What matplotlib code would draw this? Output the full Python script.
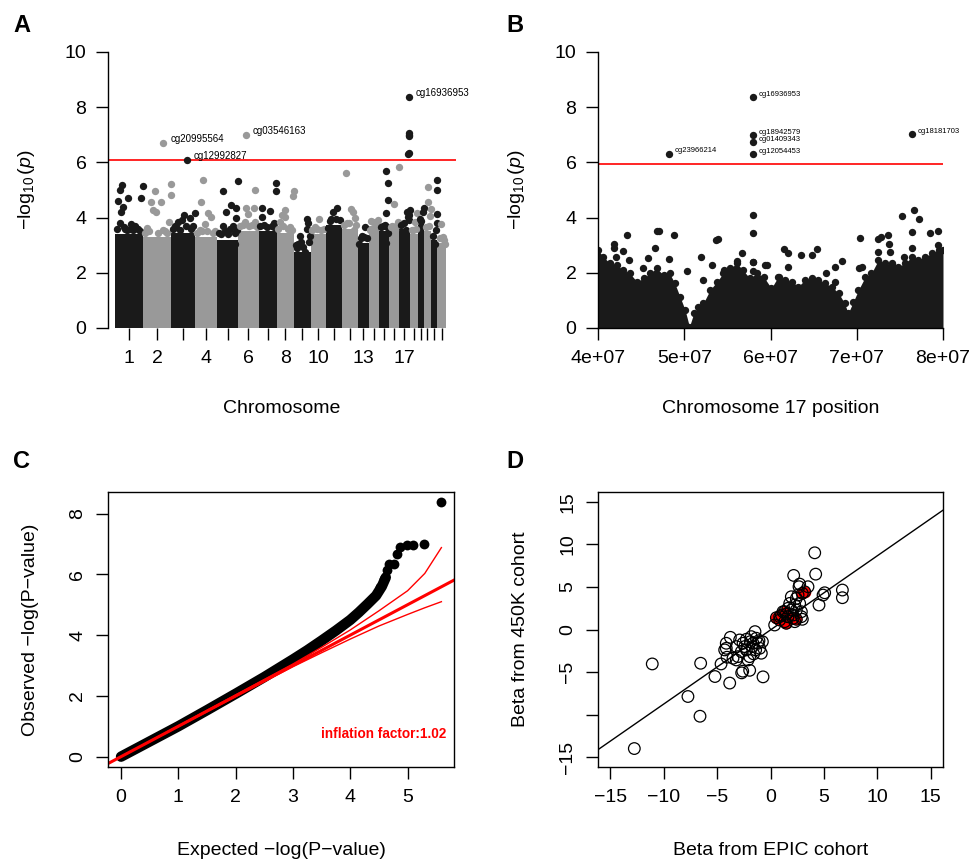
import matplotlib
matplotlib.use("Agg")
import matplotlib.pyplot as plt
import numpy as np

plt.rcParams['font.family'] = ['Liberation Sans', 'DejaVu Sans']
plt.rcParams['mathtext.fontset'] = 'custom'
plt.rcParams['mathtext.rm'] = 'Liberation Sans'
plt.rcParams['mathtext.it'] = 'Liberation Sans:italic'

# ---------------- data ----------------
# A: genome-wide manhattan (positions in Mb within chromosome)
chrom_span = [243, 246, 209, 191, 180, 180, 156, 150, 145, 136, 139, 136,
              93, 90, 87, 87, 95, 70, 52, 63, 55, 75]
chrom_bulk = [3.4, 3.3, 3.45, 3.3, 3.2, 3.5, 3.5, 3.45, 2.75, 3.4, 3.75, 3.6,
              3.07, 3.7, 3.5, 3.5, 3.6, 3.4, 3.8, 3.5, 3.2, 3.07]
chrom_shown = ['1', '2', '', '4', '', '6', '', '8', '', '10', '', '',
               '13', '', '', '', '17', '', '', '', '', '']
a_top = {
    1: [(60.8, 5.18), (40.8, 5.0), (112.9, 4.7), (26.1, 4.6), (69.5, 4.37), (54.7, 4.21),
        (42, 3.79), (141.6, 3.76), (171.1, 3.7), (228.4, 4.7), (240, 5.16), (90, 3.6), (200, 3.6),
        (15, 3.6), (75, 3.65), (100, 3.55), (130, 3.6), (155, 3.55), (185, 3.62), (215, 3.5)],
    2: [(101.8, 4.96), (67.1, 4.55), (159.1, 4.55), (87, 4.28), (115.7, 4.22), (244, 5.22),
        (242, 4.82), (226, 3.84), (37.5, 3.61), (173.9, 3.54), (177, 6.71),
        (20, 3.45), (50, 3.5), (130, 3.45), (190, 3.5), (210, 3.45)],
    3: [(136.3, 6.09), (110.3, 4.09), (159.8, 3.99), (205, 4.18), (58.2, 3.84), (29.5, 3.7), (188.4, 3.7),
        (15, 3.6), (45, 3.65), (80, 3.55), (95, 3.9), (125, 3.7), (175, 3.6)],
    4: [(66.3, 5.36), (46.3, 4.55), (109.7, 4.15), (138.4, 4.03), (81, 3.78), (37.6, 3.55),
        (15, 3.45), (60, 3.5), (100, 3.5), (150, 3.45), (175, 3.5)],
    5: [(49, 4.96), (121.1, 4.45), (77.7, 4.19), (178, 5.34), (164.5, 4.33), (159.3, 3.99),
        (135.8, 3.7), (51, 3.7), (150.6, 3.46), (155.8, 3.04),
        (15, 3.45), (30, 3.4), (65, 3.5), (95, 3.4), (110, 3.6), (170, 3.55)],
    6: [(66.1, 6.98), (144.3, 5.0), (71.3, 4.33), (141, 4.34), (86.1, 4.12), (57.4, 3.85), (149, 3.85),
        (20, 3.7), (40, 3.75), (100, 3.7), (120, 3.75), (165, 3.65)],
    7: [(27.7, 4.34), (99.8, 4.24), (30, 4.02), (136, 3.67), (150, 5.24), (153, 4.95),
        (10, 3.7), (50, 3.75), (70, 3.65), (115, 3.7), (130, 3.8)],
    8: [(71.5, 4.28), (42.8, 4.09), (148, 4.96), (146, 4.8), (75, 4.03), (28, 3.85), (115, 3.67),
        (15, 3.6), (55, 3.7), (95, 3.6), (130, 3.55)],
    9: [(51.7, 3.33), (115, 3.94), (110, 3.57), (121, 3.81), (80, 2.95), (95, 2.77), (37, 3.05), (143, 3.33),
        (15, 3.0), (30, 2.9), (60, 3.1), (130, 3.1)],
    10: [(71.7, 3.94), (37, 3.67), (95, 3.55), (15, 3.55), (55, 3.6), (115, 3.6)],
    11: [(98, 4.33), (60, 4.19), (31, 3.88), (16.5, 3.64), (75, 3.3), (45, 3.95), (85, 3.95), (120, 3.9)],
    12: [(37, 5.6), (75, 4.32), (95, 4.19), (107, 4.0), (40, 3.81), (103, 3.55),
         (15, 3.75), (55, 3.8), (120, 3.75)],
    13: [(34.6, 3.33), (11, 3.05), (63, 3.67), (25, 3.25), (50, 3.3), (80, 3.25)],
    14: [(25, 3.88), (83, 3.9), (54, 3.64), (10.7, 3.55), (40, 3.85), (70, 3.8)],
    15: [(59.6, 5.7), (79.6, 5.24), (79.6, 4.62), (59.6, 4.18), (51, 3.73), (79.6, 3.43), (65.7, 3.07),
         (20, 3.65), (35, 3.7), (70, 3.65)],
    16: [(85, 5.82), (42, 4.51), (83, 3.85), (51, 3.55), (15, 3.65), (30, 3.7), (65, 3.7)],
    17: [(86, 8.37), (88, 6.99), (91, 7.05), (84, 6.94), (86, 6.33), (83, 6.3), (93, 4.28),
         (90, 4.09), (84, 3.9), (59, 3.55), (72, 4.21), (80, 4.03), (15, 3.75), (40, 3.8)],
    18: [(65, 4.15), (28, 3.55), (42, 3.85), (15, 3.55), (55, 3.6)],
    19: [(31, 3.88), (44, 4.19), (50, 4.33), (15, 3.95)],
    20: [(36, 5.1), (36, 4.58), (62, 4.3), (51, 4.05), (15, 3.65), (45, 3.7)],
    21: [(52, 5.36), (52, 5.0), (50, 4.12), (48, 3.82), (42, 3.55), (35, 3.05), (20, 3.35)],
    22: [(34, 3.76), (48, 3.3), (63, 3.05), (20, 3.25), (60, 3.2)],
}
a_hits = [(2, 177, 6.71, 'cg20995564'), (3, 136.3, 6.09, 'cg12992827'),
          (6, 66.1, 6.98, 'cg03546163'), (17, 86, 8.37, 'cg16936953')]
a_threshold = 6.1

# B: chromosome 17 (positions in Mb)
b_env = [(40.0, 2.83), (40.6, 2.58), (41.4, 2.34), (42.2, 2.28), (42.9, 2.1), (43.7, 1.98),
         (44.5, 1.68), (45.3, 1.8), (46.0, 1.98), (46.8, 2.16), (47.6, 1.92), (48.3, 1.98),
         (48.9, 1.62), (49.5, 1.14), (50.1, 0.65), (50.6, 0.05), (51.1, 0.53), (51.6, 0.77),
         (52.2, 0.89), (53.0, 1.38), (53.8, 1.68), (54.5, 1.98), (55.3, 2.16), (56.1, 2.34),
         (56.8, 2.1), (57.6, 1.8), (58.4, 1.98), (59.2, 1.86), (60.1, 1.44), (60.9, 1.86),
         (61.7, 1.74), (62.5, 1.68), (63.2, 1.5), (64.0, 1.74), (64.8, 1.8), (65.5, 1.74),
         (66.3, 1.62), (67.1, 1.5), (67.9, 1.26), (68.6, 0.89), (69.0, 0.53), (69.6, 0.95),
         (70.2, 1.38), (71.0, 1.86), (71.7, 1.98), (72.5, 2.46), (73.3, 2.34), (74.1, 2.28),
         (74.8, 2.22), (75.6, 2.34), (76.4, 2.58), (77.1, 2.46), (77.9, 2.58), (78.7, 2.7),
         (79.5, 2.83), (80.0, 2.83)]
b_points = [(43.32, 3.37), (41.85, 3.04), (41.85, 2.89), (42.08, 2.56), (42.94, 2.8), (43.63, 2.46),
            (46.8, 3.53), (47.1, 3.53), (46.6, 2.89), (45.83, 2.52), (45.18, 2.16), (48.23, 2.49),
            (48.85, 3.37), (50.28, 2.08), (51.94, 2.58), (52.13, 1.74), (53.18, 2.28), (53.68, 3.19),
            (53.95, 3.21), (56.65, 2.73), (56.07, 2.43), (57.93, 4.09), (57.93, 3.43), (57.93, 2.4),
            (59.36, 2.28), (55.3, 2.04), (54.64, 2.1), (59.55, 2.28), (61.6, 2.85), (62.07, 2.73),
            (63.53, 2.63), (64.77, 2.63), (65.43, 2.85), (62.07, 2.22), (61.0, 1.86), (67.48, 2.2),
            (68.25, 2.43), (70.37, 3.27), (70.57, 2.22), (70.3, 2.16), (72.5, 3.21), (72.81, 3.28),
            (73.66, 3.36), (73.74, 3.04), (73.85, 2.77), (72.5, 2.77), (75.2, 4.06), (76.64, 4.27),
            (77.21, 3.95), (76.44, 3.49), (78.49, 3.45), (79.38, 3.53), (79.46, 3.01), (76.37, 2.89),
            (75.51, 2.58), (74.05, 2.34), (66.43, 1.98), (67.48, 1.68), (57.93, 2.38), (57.93, 2.07)]
b_hits = [(48.23, 6.32, 'cg23966214'), (57.93, 8.37, 'cg16936953'), (57.93, 6.99, 'cg18942579'),
          (57.93, 6.73, 'cg01409343'), (57.93, 6.29, 'cg12054453'), (76.44, 7.02, 'cg18181703')]
b_threshold = 5.94
b_ticks = [4e7, 5e7, 6e7, 7e7, 8e7]

# C: QQ plot
qq_exp = [0, 0.5, 1.0, 1.5, 2.0, 2.5, 3.0, 3.25, 3.5, 3.75, 4.0, 4.15, 4.3, 4.45, 4.55, 4.62]
qq_obs = [0.0, 0.5, 1.0, 1.53, 2.07, 2.62, 3.2, 3.5, 3.82, 4.15, 4.5, 4.75, 5.02, 5.3, 5.6, 5.9]
qq_tail_exp = [4.52, 4.58, 4.64, 4.67, 4.76, 4.81, 4.87, 4.99, 5.1, 5.29, 5.59]
qq_tail_obs = [5.59, 5.86, 6.13, 6.35, 6.35, 6.68, 6.9, 6.96, 6.96, 7.01, 8.38]
ci_exp = [0, 3.0, 3.5, 4.0, 4.5, 5.0, 5.3, 5.59]
ci_upper = [0, 3.05, 3.6, 4.17, 4.8, 5.46, 6.03, 6.88]
ci_lower = [0, 2.96, 3.42, 3.87, 4.3, 4.68, 4.9, 5.1]
inflation = 1.02

# D: beta comparison
d_black = [(-11.07, -4.05), (-12.75, -14.0), (-7.73, -7.88), (-6.6, -10.2), (-6.54, -3.97),
           (-5.2, -5.53), (-4.63, -4.05), (-3.82, -6.3), (-2.7, -5.1), (-1.95, -4.8),
           (-0.70, -5.57), (-2.6, -4.9),
           (-4.14, -1.62), (-4.14, -2.21), (-3.76, -0.92), (-3.2, -2.01), (-3.04, -3.19),
           (-2.89, -1.23), (-2.57, -1.62), (-2.26, -2.4), (-2.11, -3.58), (-1.89, -1.43),
           (-1.7, -2.01), (-1.58, -2.87), (-1.45, -0.25), (-1.33, -1.03), (-1.17, -1.62),
           (-1.01, -2.21), (-0.86, -2.79), (-0.76, -1.43), (-1.39, -2.4), (-1.8, -0.84),
           (-2.26, -1.15), (-2.73, -2.6), (-3.2, -3.58), (-3.51, -3.38), (-4.07, -3.26),
           (-4.29, -2.4), (-2.42, -2.01), (-1.95, -3.19), (-1.64, -1.62), (-1.08, -1.31),
           (0.39, 0.53), (0.86, 1.51), (1.17, 2.09), (1.33, 0.92), (1.64, 1.51), (1.95, 2.29),
           (2.11, 1.7), (2.27, 2.88), (2.42, 3.66), (2.58, 4.05), (2.73, 3.07), (2.89, 2.09),
           (2.98, 1.2), (1.95, 3.85), (1.64, 2.49), (1.48, 1.82), (2.67, 5.03), (2.17, 6.36),
           (3.51, 5.03), (4.14, 9.02), (4.23, 6.51), (4.54, 2.88), (4.92, 4.05), (5.07, 4.32),
           (6.73, 4.64), (6.73, 3.74), (2.73, 5.34), (2.89, 1.51), (2.42, 2.29), (1.8, 3.07),
           (2.27, 0.92)]
d_red = [(0.55, 1.39), (1.02, 1.7), (1.48, 0.73), (1.64, 1.51), (2.11, 1.31), (2.42, 1.2),
         (1.33, 2.09), (3.2, 4.44), (2.98, 4.25), (0.86, 1.12)]
d_slope, d_intercept = 0.872, -0.05

# ---------------- figure ----------------
W, H = 971, 859
fig = plt.figure(figsize=(W / 100, H / 100), dpi=100)


def px_axes(left, top, right, bottom):
    return fig.add_axes([left / W, 1 - bottom / H, (right - left) / W, (bottom - top) / H])


TICK = 14
LAB = 14
BLACK = '#1a1a1a'
GRAY = '#999999'

# ---- A ----
ax = px_axes(108, 52, 456, 328)
offsets = np.concatenate([[0], np.cumsum(chrom_span)[:-1]])
colors = [BLACK if i % 2 == 0 else GRAY for i in range(len(chrom_span))]
ax.bar(offsets, chrom_bulk, width=chrom_span, align='edge', color=colors, linewidth=0)
for c, pts in a_top.items():
    p = np.array(pts)
    ax.scatter(offsets[c - 1] + p[:, 0], p[:, 1], s=28, color=colors[c - 1], linewidths=0, zorder=3)
ax.axhline(a_threshold, color='red', lw=1.2, zorder=2)
for c, pos, lp, name in a_hits:
    ax.annotate(name, (offsets[c - 1] + pos, lp), xytext=(5, 3), textcoords='offset points',
                fontsize=7, va='center', ha='left')
total = sum(chrom_span)
ax.set_xlim(-61, total * 1.03)
ax.set_ylim(0, 10)
ax.set_xticks(offsets + np.array(chrom_span) / 2)
ax.set_xticklabels(chrom_shown)
ax.set_yticks([0, 2, 4, 6, 8, 10])
ax.set_ylabel(r'$-\log_{10}(\mathit{p})$', fontsize=LAB, labelpad=20)
ax.set_xlabel('Chromosome', fontsize=LAB, labelpad=24)
for s in ['top', 'right', 'bottom']:
    ax.spines[s].set_visible(False)
ax.spines['left'].set_bounds(0, 10)

# ---- B ----
bx = px_axes(598, 52, 943, 328)
env = np.array(b_env)
bx.fill_between(env[:, 0] * 1e6, 0, env[:, 1], color=BLACK, linewidth=0)
bx.scatter(env[:, 0] * 1e6, env[:, 1], s=28, color=BLACK, linewidths=0)
bp = np.array(b_points)
bx.scatter(bp[:, 0] * 1e6, bp[:, 1], s=28, color=BLACK, linewidths=0)
for pos, lp, name in b_hits:
    bx.scatter(pos * 1e6, lp, s=28, color=BLACK, linewidths=0)
    bx.annotate(name, (pos * 1e6, lp), xytext=(4, 2), textcoords='offset points',
                fontsize=5.5, va='center', ha='left')
bx.axhline(b_threshold, color='red', lw=1.2)
bx.set_xlim(4e7, 8e7)
bx.set_ylim(0, 10)
bx.set_xticks(b_ticks)
bx.set_xticklabels([f'{t:.0e}' for t in b_ticks])
bx.set_yticks([0, 2, 4, 6, 8, 10])
bx.set_ylabel(r'$-\log_{10}(\mathit{p})$', fontsize=LAB, labelpad=20)
bx.set_xlabel('Chromosome 17 position', fontsize=LAB, labelpad=24)
for s in ['top', 'right']:
    bx.spines[s].set_visible(False)
bx.spines['left'].set_bounds(0, 10)
bx.spines['bottom'].set_bounds(4e7, 8e7)

# ---- C ----
cx = px_axes(108, 492, 454, 767)
cx.plot(qq_exp, qq_obs, color='black', lw=7.5, solid_capstyle='round', solid_joinstyle='round')
cx.scatter(qq_tail_exp, qq_tail_obs, s=50, color='black', linewidths=0)
cx.axline((0, 0), slope=1, color='red', lw=2.2)
cx.plot(ci_exp, ci_upper, color='red', lw=1)
cx.plot(ci_exp, ci_lower, color='red', lw=1)
cx.text(5.67, 0.75, f'inflation factor:{inflation}', color='red', fontsize=9.8,
        fontweight='bold', ha='right', va='center')
cx.set_xlim(-0.227, 5.81)
cx.set_ylim(-0.34, 8.71)
cx.set_xticks([0, 1, 2, 3, 4, 5])
cx.set_yticks([0, 2, 4, 6, 8])
cx.set_yticklabels(['0', '2', '4', '6', '8'], rotation=90, va='center')
cx.set_xlabel('Expected \u2212log(P\u2212value)', fontsize=LAB, labelpad=26)
cx.set_ylabel('Observed \u2212log(P\u2212value)', fontsize=LAB, labelpad=22)

# ---- D ----
dx = px_axes(598, 492, 943, 767)
dr = np.array(d_red)
db = np.array(d_black)
dx.axline((0, d_intercept), slope=d_slope, color='black', lw=1)
dx.scatter(dr[:, 0], dr[:, 1], s=70, color='red', linewidths=0, zorder=3)
dx.scatter(db[:, 0], db[:, 1], s=70, facecolors='none', edgecolors='black', linewidths=0.9, zorder=4)
dx.scatter(dr[:, 0], dr[:, 1], s=70, facecolors='none', edgecolors='black', linewidths=0.9, zorder=4)
dx.set_xlim(-16.15, 16.15)
dx.set_ylim(-16.17, 16.17)
dx.set_xticks([-15, -10, -5, 0, 5, 10, 15])
dx.set_xticklabels(['\u221215', '\u221210', '\u22125', '0', '5', '10', '15'])
dx.set_yticks([-15, -10, -5, 0, 5, 10, 15])
dx.set_yticklabels(['\u221215', '', '\u22125', '0', '5', '10', '15'], rotation=90, va='center')
dx.set_xlabel('Beta from EPIC cohort', fontsize=LAB, labelpad=26)
dx.set_ylabel('Beta from 450K cohort', fontsize=LAB, labelpad=22)

for a in [ax, bx, cx, dx]:
    a.tick_params(labelsize=TICK, length=8.5, width=1, pad=7, direction='out')
    for s in a.spines.values():
        s.set_linewidth(1)

for letter, x, y in [('A', 22, 25), ('B', 515, 25), ('C', 22, 462), ('D', 515, 462)]:
    fig.text(x / W, 1 - y / H, letter, fontsize=17, fontweight='bold', ha='center', va='center')

fig.savefig('out.png', dpi=100)
